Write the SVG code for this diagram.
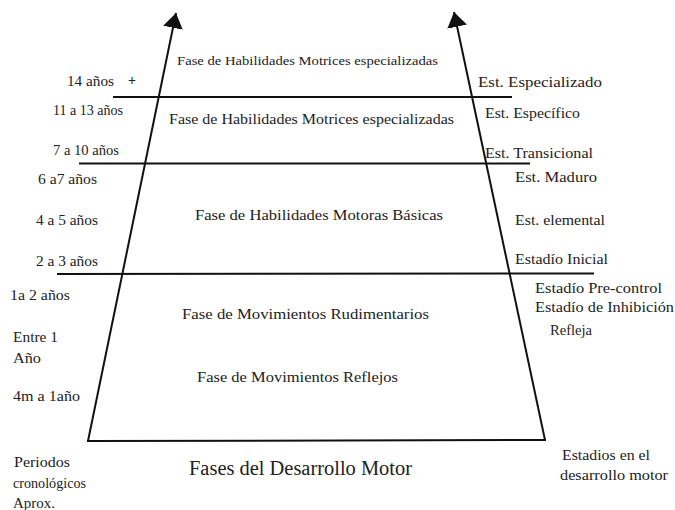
<svg xmlns="http://www.w3.org/2000/svg" width="675" height="510" viewBox="0 0 675 510" font-family="'Liberation Serif', 'DejaVu Serif', serif">
<style>
text{font-family:'Liberation Serif','DejaVu Serif',serif;fill:#222;}
.lab{font-size:14px;}
.ph{font-size:15.5px;}
.ln{stroke:#111;stroke-width:2;fill:none;}
</style>
<defs>
<marker id="ah" markerUnits="userSpaceOnUse" markerWidth="16" markerHeight="22" refX="15" refY="10" orient="auto" viewBox="0 0 16 20">
<path d="M0,0 L15,10 L0,20 Z" fill="#111"/>
</marker>
</defs>
<rect width="675" height="510" fill="#fff"/>
<g id="connectors">
<line class="ln" x1="88" y1="441" x2="176" y2="13" marker-end="url(#ah)"/>
<line class="ln" x1="545" y1="440" x2="454" y2="12" marker-end="url(#ah)"/>
<line class="ln" x1="113" y1="97" x2="512" y2="97"/>
<line class="ln" x1="79" y1="163.5" x2="530" y2="163.5"/>
<line class="ln" x1="57" y1="274" x2="594" y2="273.5"/>
<line class="ln" x1="87" y1="441" x2="546" y2="440"/>
</g>
<g id="fase-especializadas-top" font-family="'Liberation Serif', serif"><text x="177" y="65" style="font-size:13px" textLength="261" lengthAdjust="spacingAndGlyphs">Fase de Habilidades Motrices especializadas</text></g>
<g id="fase-especializadas" font-family="'Liberation Serif', serif"><text x="169" y="124" style="font-size:14px" textLength="285" lengthAdjust="spacingAndGlyphs">Fase de Habilidades Motrices especializadas</text></g>
<g id="fase-basicas" font-family="'Liberation Serif', serif"><text class="ph" x="195" y="220" textLength="248" lengthAdjust="spacingAndGlyphs">Fase de Habilidades Motoras Básicas</text></g>
<g id="fase-rudimentarios" font-family="'Liberation Serif', serif"><text class="ph" x="182" y="319" textLength="247" lengthAdjust="spacingAndGlyphs">Fase de Movimientos Rudimentarios</text></g>
<g id="fase-reflejos" font-family="'Liberation Serif', serif"><text class="ph" x="197" y="382" textLength="201" lengthAdjust="spacingAndGlyphs">Fase de Movimientos Reflejos</text></g>
<g id="titulo" font-family="'Liberation Serif', serif"><text x="189" y="475" style="font-size:20px" textLength="223" lengthAdjust="spacingAndGlyphs">Fases del Desarrollo Motor</text></g>
<g id="edades" font-family="'Liberation Serif', serif">
<text class="lab" x="67" y="86" textLength="47" lengthAdjust="spacingAndGlyphs">14 años</text>
<text x="128" y="85" style="font-size:14px;font-weight:bold">+</text>
<text class="lab" x="53" y="115" textLength="70" lengthAdjust="spacingAndGlyphs">11 a 13 años</text>
<text class="lab" x="53" y="155" textLength="66" lengthAdjust="spacingAndGlyphs">7 a 10 años</text>
<text class="lab" x="38" y="184" textLength="59" lengthAdjust="spacingAndGlyphs">6 a7 años</text>
<text class="lab" x="36" y="225" textLength="62" lengthAdjust="spacingAndGlyphs">4 a 5 años</text>
<text class="lab" x="36" y="266" textLength="62" lengthAdjust="spacingAndGlyphs">2 a 3 años</text>
<text class="lab" x="10" y="300" textLength="60" lengthAdjust="spacingAndGlyphs">1a 2 años</text>
<text class="lab" x="13" y="342" textLength="45" lengthAdjust="spacingAndGlyphs">Entre 1</text>
<text class="lab" x="13" y="363" textLength="28" lengthAdjust="spacingAndGlyphs">Año</text>
<text class="lab" x="13" y="401" textLength="67" lengthAdjust="spacingAndGlyphs">4m a 1año</text>
</g>
<g id="periodos" font-family="'Liberation Serif', serif">
<text class="lab" x="14" y="467" textLength="56" lengthAdjust="spacingAndGlyphs">Periodos</text>
<text class="lab" x="13" y="488" textLength="73" lengthAdjust="spacingAndGlyphs">cronológicos</text>
<text class="lab" x="13" y="508" textLength="42" lengthAdjust="spacingAndGlyphs">Aprox.</text>
</g>
<g id="estadios" font-family="'Liberation Serif', serif">
<text class="lab" x="478" y="87" textLength="124" lengthAdjust="spacingAndGlyphs">Est. Especializado</text>
<text class="lab" x="485" y="118" textLength="95" lengthAdjust="spacingAndGlyphs">Est. Específico</text>
<text class="lab" x="485" y="158" textLength="108" lengthAdjust="spacingAndGlyphs">Est. Transicional</text>
<text class="lab" x="515" y="182" textLength="82" lengthAdjust="spacingAndGlyphs">Est. Maduro</text>
<text class="lab" x="515" y="225" textLength="90" lengthAdjust="spacingAndGlyphs">Est. elemental</text>
<text class="lab" x="515" y="264" textLength="93" lengthAdjust="spacingAndGlyphs">Estadío Inicial</text>
<text class="lab" x="535" y="293" textLength="127" lengthAdjust="spacingAndGlyphs">Estadío Pre-control</text>
<text class="lab" x="535" y="312" textLength="139" lengthAdjust="spacingAndGlyphs">Estadío de Inhibición</text>
<text class="lab" x="550" y="335" textLength="42" lengthAdjust="spacingAndGlyphs">Refleja</text>
</g>
<g id="estadios-titulo" font-family="'Liberation Serif', serif">
<text class="lab" x="562" y="460" textLength="88" lengthAdjust="spacingAndGlyphs">Estadios en el</text>
<text class="lab" x="560" y="480" textLength="108" lengthAdjust="spacingAndGlyphs">desarrollo motor</text>
</g>
</svg>
